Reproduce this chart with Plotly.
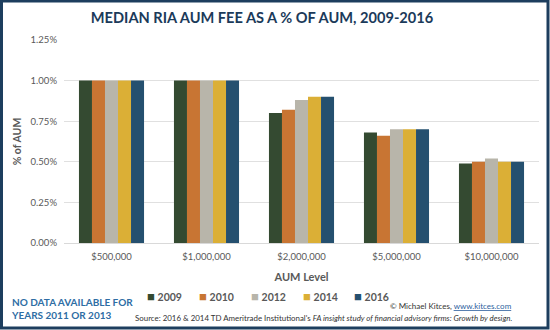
import plotly.graph_objects as go

categories = ["$500,000", "$1,000,000", "$2,000,000", "$5,000,000", "$10,000,000"]
years = ["2009", "2010", "2012", "2014", "2016"]
fee_2009 = [1.00, 1.00, 0.80, 0.68, 0.49]
fee_2010 = [1.00, 1.00, 0.82, 0.66, 0.50]
fee_2012 = [1.00, 1.00, 0.88, 0.70, 0.52]
fee_2014 = [1.00, 1.00, 0.90, 0.70, 0.50]
fee_2016 = [1.00, 1.00, 0.90, 0.70, 0.50]
series = [fee_2009, fee_2010, fee_2012, fee_2014, fee_2016]
colors = ["#344a31", "#c87533", "#b8b5aa", "#dbaf36", "#25506f"]
y_ticks = [0, 0.25, 0.5, 0.75, 1.0, 1.25]
y_tick_labels = ["0.00%", "0.25%", "0.50%", "0.75%", "1.00%", "1.25%"]

W, H = 550, 330
ml, mr, mt, mb = 64, 11, 40, 87
pw, ph = W - ml - mr, H - mt - mb

def px_x(x):
    return (x - ml) / pw

def px_y(y):
    return (H - mb - y) / ph

fig = go.Figure()
for yr, vals, c in zip(years, series, colors):
    fig.add_trace(go.Bar(x=categories, y=vals, name=yr, marker=dict(color=c, line=dict(width=0)),
                         showlegend=False))

font = "Lato, 'Open Sans', sans-serif"
gray = "#595959"

annotations = [
    dict(text="<b>NO DATA AVAILABLE FOR<br>YEARS 2011 OR 2013</b>", xref="paper", yref="paper",
         x=px_x(9), y=px_y(308), xanchor="left", yanchor="middle", align="left", showarrow=False,
         font=dict(size=10, color="#2e6da4", family=font)),
    dict(text="© Michael Kitces, <span style='text-decoration:underline;color:#2e5f9e'>www.kitces.com</span>",
         xref="paper", yref="paper", x=px_x(514), y=px_y(306), xanchor="right", yanchor="middle",
         showarrow=False, font=dict(size=8, color="#333333", family=font)),
    dict(text="Source: 2016 & 2014 TD Ameritrade Institutional's <i>FA insight study of financial advisory firms: Growth by design.</i>",
         xref="paper", yref="paper", x=px_x(514), y=px_y(318), xanchor="right", yanchor="middle",
         showarrow=False, font=dict(size=7.9, color="#333333", family=font)),
]

legend_x = [145, 197, 249, 301, 352]
for yr, c, lx in zip(years, colors, legend_x):
    annotations.append(dict(
        text=f"<span style='color:{c};font-size:13px'>■</span> <b>{yr}</b>", xref="paper", yref="paper",
        x=px_x(lx), y=px_y(296), xanchor="left", yanchor="middle", showarrow=False,
        font=dict(size=10.5, color=gray, family=font)))

fig.update_layout(
    width=W, height=H,
    margin=dict(l=ml, r=mr, t=mt, b=mb),
    paper_bgcolor="white", plot_bgcolor="white",
    barmode="group", bargap=0.315, bargroupgap=0,
    font=dict(family=font, color=gray),
    showlegend=False,
    title=dict(text="<b>MEDIAN RIA AUM FEE AS A % OF AUM, 2009-2016</b>",
               x=px_x(262), xref="paper", xanchor="center", y=1 - 18 / H, yanchor="middle",
               font=dict(size=14.6, color="#1b3a5a", family=font)),
    xaxis=dict(showgrid=False, showline=False, ticks="", tickfont=dict(size=9.5, color=gray),
               ticklabelstandoff=6,
               title=dict(text="<b>AUM Level</b>", font=dict(size=11, color=gray), standoff=12)),
    yaxis=dict(range=[0, 1.25], tickvals=y_ticks, ticktext=y_tick_labels,
               showgrid=True, gridcolor="#e0e0e0", gridwidth=1, zeroline=True, zerolinecolor="#d9d9d9",
               zerolinewidth=1, ticks="", tickfont=dict(size=9.5, color=gray), ticklabelstandoff=6,
               title=dict(text="<b>% of AUM</b>", font=dict(size=10.5, color=gray), standoff=6)),
    shapes=[
        dict(type="rect", xref="paper", yref="paper",
             x0=px_x(1.5), x1=px_x(W - 2), y0=px_y(H - 2), y1=px_y(1),
             line=dict(color="#1d3e5e", width=3), fillcolor="rgba(0,0,0,0)", layer="above"),
    ],
    annotations=annotations,
)

fig.write_html("out.html")
